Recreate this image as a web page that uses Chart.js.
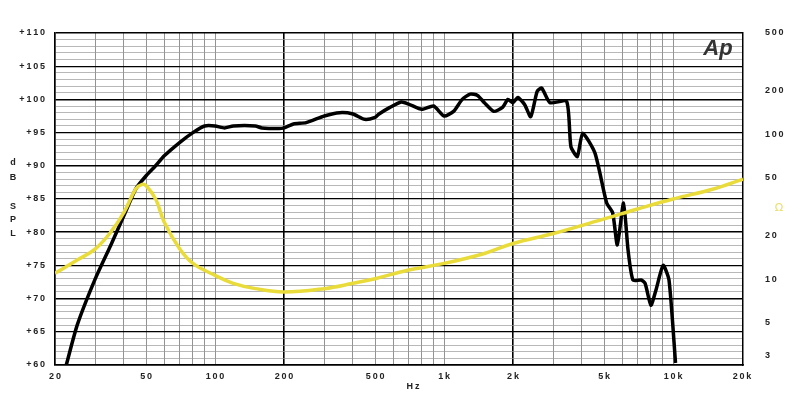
<!DOCTYPE html>
<html>
<head>
<meta charset="utf-8">
<script src="https://cdn.jsdelivr.net/npm/chart.js@4"></script>
<style>
  html, body { margin: 0; padding: 0; background: #fff; }
  #wrap { width: 800px; height: 417px; }
</style>
</head>
<body>
<div id="wrap"><canvas id="myChart"></canvas></div>
<script>
// SPL response (black), Hz / dB
const splFreq = [22.4, 25, 30, 35, 40, 45, 50, 55, 60, 70, 80, 90, 100, 110, 120, 150, 160, 190, 200, 220, 250, 300, 350, 400, 450, 500, 520, 580, 650, 700, 800, 900, 1000, 1100, 1200, 1300, 1400, 1500, 1650, 1800, 1900, 2000, 2100, 2250, 2390, 2550, 2670, 2900, 3430, 3580, 3820, 4030, 4560, 5130, 5450, 5710, 6080, 6360, 6680, 7250, 7550, 8000, 8420, 9050, 9600, 10250];
const splDb = [60, 66, 73, 78, 82.5, 86.5, 88.5, 90, 91.5, 93.5, 95, 96, 96, 95.7, 96, 96, 95.7, 95.6, 95.7, 96.3, 96.5, 97.5, 98, 97.8, 97, 97.3, 97.8, 98.8, 99.6, 99.3, 98.5, 99, 97.5, 98.2, 100, 100.8, 100.6, 99.5, 98.2, 98.8, 100, 99.5, 100.3, 99.2, 97.4, 101.2, 101.7, 99.5, 99.7, 92.9, 91.4, 94.9, 91.9, 84.4, 82.9, 78.1, 84.4, 77.3, 72.8, 72.8, 72.3, 69, 71.3, 75, 72.8, 60.3];

// impedance curve (yellow), drawn against the dB grid as in the original plot
const impFreq = [20, 25, 30, 35, 40, 45, 48, 50, 55, 60, 70, 80, 100, 120, 150, 200, 300, 400, 500, 700, 1000, 1500, 2000, 3000, 5000, 7000, 10000, 15000, 20200];
const impDb = [73.8, 75.8, 77.5, 80, 83, 86.5, 87.2, 87, 85, 81.5, 77.5, 75.3, 73.5, 72.3, 71.5, 71, 71.5, 72.3, 73, 74.3, 75.3, 76.8, 78.3, 79.8, 82, 83.5, 85, 86.5, 88];

const freqLabels = [20, 50, 100, 200, 500, 1000, 2000, 5000, 10000, 20000];
const ohmLabels = [3, 5, 10, 20, 50, 100, 200, 500];

const spaced = s => s.split('').join('\u2009');
const font = { family: 'Liberation Sans', size: 9, weight: 'bold' };

const extras = {
    id: 'extras',
    afterDraw(chart) {
        const c = chart.ctx;
        c.save();
        c.fillStyle = '#222';
        c.font = 'bold 9px "Liberation Sans"';
        c.textAlign = 'center';
        [['d', 165], ['B', 180], ['S', 209], ['P', 222], ['L', 236]].forEach(([t, y]) => c.fillText(t, 13, y));
        c.fillText(spaced('Hz'), 413, 389);
        c.fillStyle = '#e8e070';
        c.font = '11px "DejaVu Sans"';
        c.fillText('Ω', 779, 211);
        c.fillStyle = '#333';
        c.font = 'italic bold 22px "Liberation Sans"';
        c.fillText('Ap', 718, 55);
        c.restore();
    }
};

const ctx = document.getElementById('myChart').getContext('2d');
new Chart(ctx, {
    type: 'line',
    data: {
        datasets: [{
            data: impFreq.map((f, i) => ({ x: f, y: impDb[i] })),
            borderColor: '#e9dc3a',
            borderWidth: 3.5,
            pointRadius: 0,
            tension: 0.4,
            yAxisID: 'y'
        }, {
            data: splFreq.map((f, i) => ({ x: f, y: splDb[i] })),
            borderColor: '#000',
            borderWidth: 3.5,
            pointRadius: 0,
            tension: 0.2,
            yAxisID: 'y'
        }]
    },
    options: {
        responsive: true,
        maintainAspectRatio: false,
        animation: false,
        layout: { padding: { top: 33 } },
        plugins: { legend: { display: false }, tooltip: { enabled: false } },
        scales: {
            x: {
                type: 'logarithmic',
                min: 20,
                max: 20200,
                afterBuildTicks: axis => {
                    const t = [];
                    for (let d = 10; d <= 10000; d *= 10) {
                        for (let k = 1; k < 10; k++) {
                            const v = d * k;
                            if (v >= 20 && v <= 20200) t.push({ value: v });
                        }
                    }
                    axis.ticks = t;
                },
                afterFit: axis => { axis.height = 52; },
                grid: {
                    color: c => (c.tick && (c.tick.value === 200 || c.tick.value === 2000)) ? '#000' : '#777',
                    lineWidth: c => (c.tick && (c.tick.value === 200 || c.tick.value === 2000)) ? 1.6 : 0.8,
                    drawTicks: false
                },
                border: { color: '#000', width: 1.5 },
                ticks: {
                    autoSkip: false,
                    maxRotation: 0,
                    padding: 6,
                    color: '#222',
                    font: font,
                    callback: v => freqLabels.includes(v) ? spaced(v >= 1000 ? (v / 1000) + 'k' : String(v)) : ''
                }
            },
            y: {
                position: 'left',
                min: 60,
                max: 110,
                afterFit: axis => { axis.width = 55; },
                afterBuildTicks: axis => {
                    const t = [];
                    for (let v = 60; v <= 110; v++) t.push({ value: v });
                    axis.ticks = t;
                },
                grid: {
                    color: c => c.tick && c.tick.value % 5 === 0 ? '#000' : '#999',
                    lineWidth: c => c.tick && c.tick.value % 10 === 0 ? 1.6 : (c.tick && c.tick.value % 5 === 0 ? 1.2 : 0.7),
                    drawTicks: false
                },
                border: { color: '#000', width: 1.5 },
                ticks: {
                    autoSkip: false,
                    padding: 10,
                    color: '#222',
                    font: font,
                    callback: v => v % 5 === 0 ? spaced('+' + v) : ''
                }
            },
            y2: {
                type: 'logarithmic',
                position: 'right',
                min: 2.56,
                max: 500,
                afterFit: axis => { axis.width = 57; },
                afterBuildTicks: axis => { axis.ticks = ohmLabels.map(v => ({ value: v })); },
                grid: { display: false },
                border: { color: '#000', width: 1.5 },
                ticks: {
                    autoSkip: false,
                    padding: 14,
                    color: '#222',
                    font: font,
                    callback: v => spaced(String(v))
                }
            }
        }
    },
    plugins: [extras]
});
</script>
</body>
</html>
